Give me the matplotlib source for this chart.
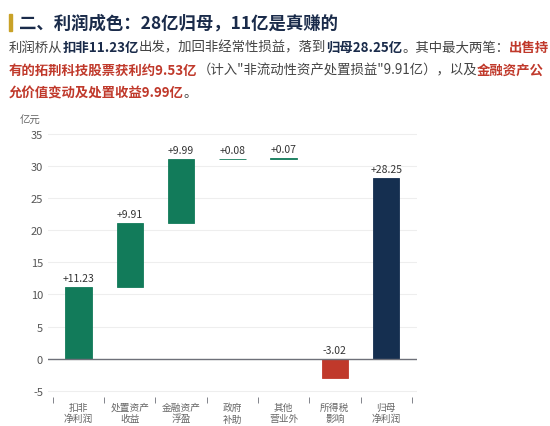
import matplotlib
matplotlib.use("Agg")
import matplotlib.pyplot as plt
from matplotlib.patches import Rectangle

plt.rcParams['font.family'] = ['Noto Sans CJK SC', 'DejaVu Sans']
plt.rcParams['axes.unicode_minus'] = False

categories = ["扣非\n净利润", "处置资产\n收益", "金融资产\n浮盈", "政府\n补助", "其他\n营业外", "所得税\n影响", "归母\n净利润"]
values = [11.23, 9.91, 9.99, 0.08, 0.07, -3.02, 28.25]
bottoms = [0, 11.23, 21.14, 31.13, 31.21, 0, 0]
labels = ["+11.23", "+9.91", "+9.99", "+0.08", "+0.07", "-3.02", "+28.25"]
colors = ["#127b5a", "#127b5a", "#127b5a", "#127b5a", "#127b5a", "#c0392b", "#152f50"]

fig = plt.figure(figsize=(5.5, 4.27), dpi=100)
fig.patches.append(Rectangle((0.016, 0.925), 0.005, 0.04, transform=fig.transFigure, color="#c9a227"))
fig.text(0.035, 0.945, "二、利润成色：28亿归母，11亿是真赚的", fontsize=12.5, fontweight="bold", color="#1a2b4a", va="center")

lines = [
    [("利润桥从", "#444444", "normal"), ("扣非11.23亿", "#1a2b4a", "bold"), ("出发，加回非经常性损益，落到", "#444444", "normal"),
     ("归母28.25亿", "#1a2b4a", "bold"), ("。其中最大两笔：", "#444444", "normal"), ("出售持", "#c0392b", "bold")],
    [("有的拓荆科技股票获利约9.53亿", "#c0392b", "bold"), ("（计入\"非流动性资产处置损益\"9.91亿），以及", "#444444", "normal"), ("金融资产公", "#c0392b", "bold")],
    [("允价值变动及处置收益9.99亿", "#c0392b", "bold"), ("。", "#444444", "normal")],
]
fig.canvas.draw()
r = fig.canvas.get_renderer()
ys = [0.888, 0.835, 0.782]
for line, y in zip(lines, ys):
    x = 0.016
    for s, c, w in line:
        t = fig.text(x, y, s, fontsize=9.65, color=c, fontweight=w, va="center")
        bb = t.get_window_extent(r)
        x += bb.width / fig.bbox.width

ax = fig.add_axes([0.087, 0.068, 0.671, 0.63])
x = range(len(values))
ax.bar(x, values, bottom=bottoms, color=colors, edgecolor=colors, linewidth=0.6, width=0.52, zorder=3)
for i, (v, b, l) in enumerate(zip(values, bottoms, labels)):
    top = b + max(v, 0)
    ax.text(i, top + 0.6, l, ha="center", va="bottom", fontsize=7.5, color="#333333")
ax.set_ylim(-6, 36)
ax.set_xlim(-0.6, 6.6)
ax.set_yticks(range(-5, 36, 5))
ax.tick_params(axis="y", length=0, labelsize=8, colors="#555555")
ax.set_xticks(list(x))
ax.set_xticklabels(categories, linespacing=1.2)
ax.set_xticks([i - 0.5 for i in range(8)], minor=True)
ax.tick_params(axis="x", which="major", length=0, labelsize=7, labelcolor="#666666")
ax.tick_params(axis="x", which="minor", length=4, color="#6e7079")
ax.grid(axis="y", color="#eeeeee", lw=0.8, zorder=0)
for s in ["top", "right", "left", "bottom"]:
    ax.spines[s].set_visible(False)
ax.axhline(0, color="#6e7079", lw=1, zorder=4)
ax.text(-0.02, 1.02, "亿元", transform=ax.transAxes, fontsize=7.5, color="#666666", ha="right")
fig.savefig("out.png", dpi=100)
